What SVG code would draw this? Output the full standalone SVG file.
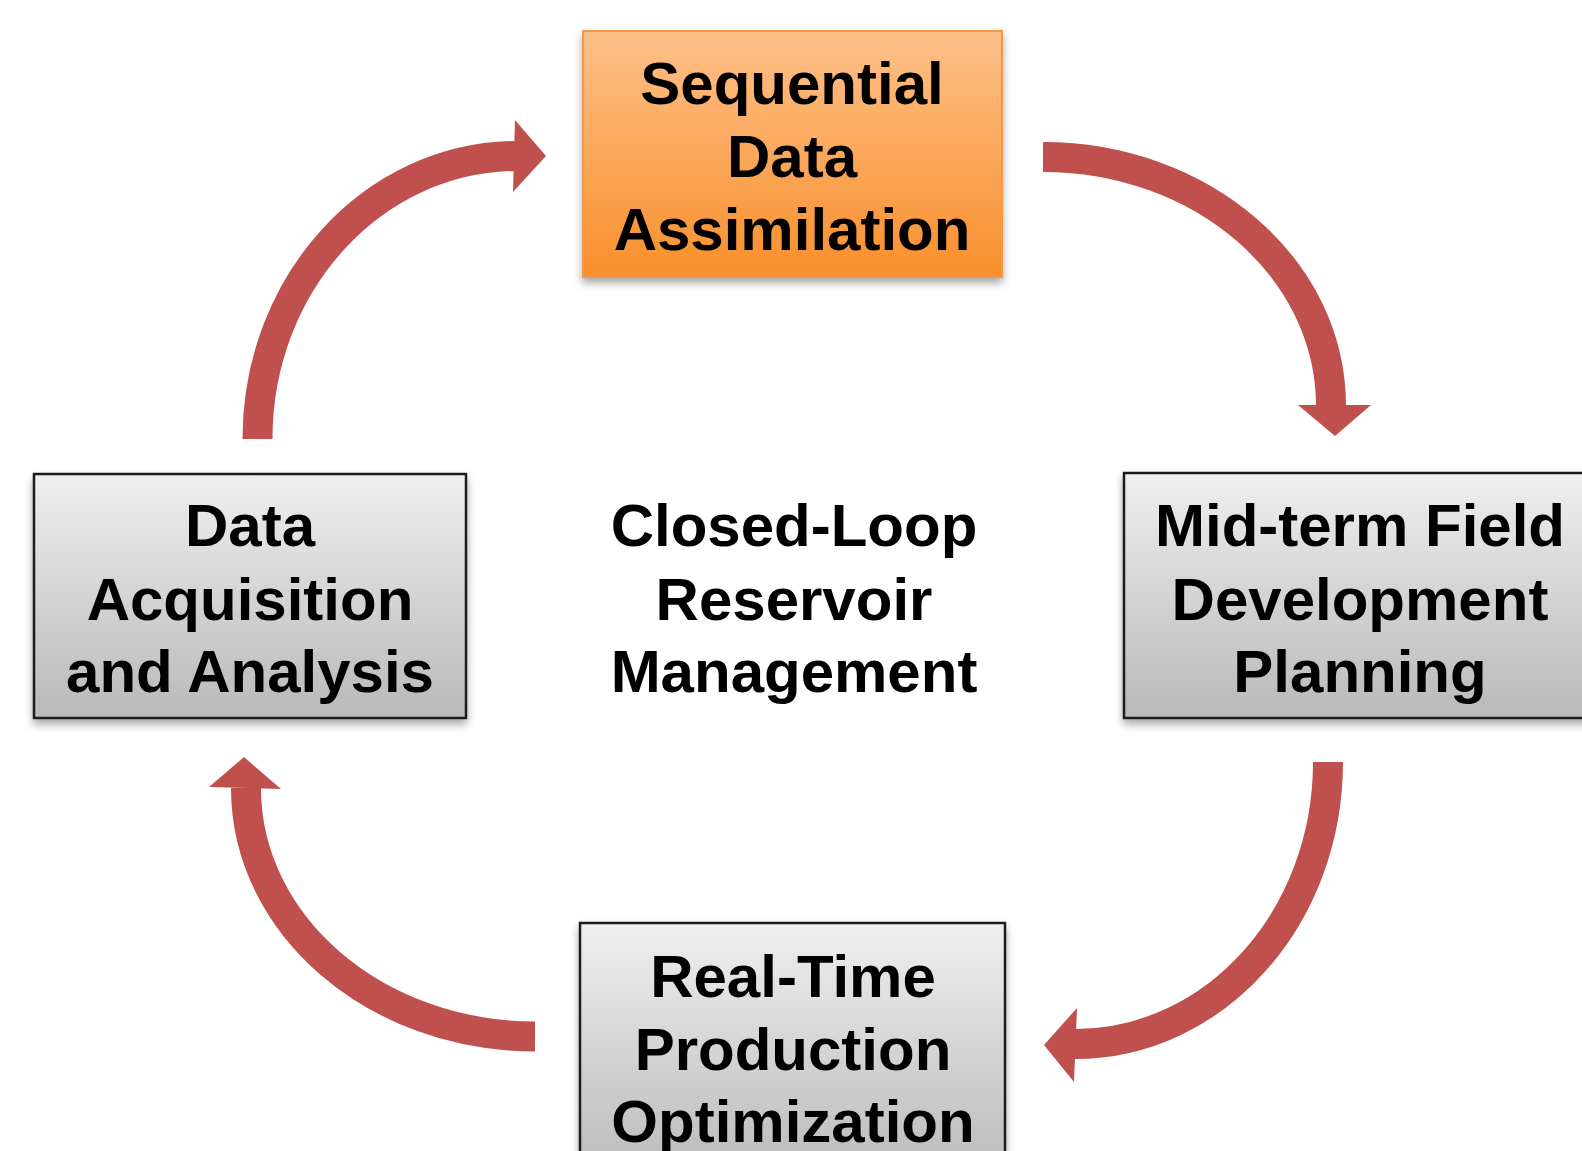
<svg xmlns="http://www.w3.org/2000/svg" width="1582" height="1151" viewBox="0 0 1582 1151">
<defs>
<linearGradient id="gGray" x1="0" y1="0" x2="0" y2="1">
<stop offset="0" stop-color="#efefef"/>
<stop offset="1" stop-color="#b9b9b9"/>
</linearGradient>
<linearGradient id="gOrange" x1="0" y1="0" x2="0" y2="1">
<stop offset="0" stop-color="#fdc089"/>
<stop offset="1" stop-color="#f98f2c"/>
</linearGradient>
<filter id="shadow" x="-10%" y="-10%" width="120%" height="130%">
<feDropShadow dx="0" dy="5" stdDeviation="4" flood-color="#000" flood-opacity="0.35"/>
</filter>
</defs>
<style>
.box{fill:url(#gGray);stroke:#1a1a1a;stroke-width:2.5;filter:url(#shadow)}
.obox{fill:url(#gOrange);stroke:#f79646;stroke-width:2;filter:url(#shadow)}
.t{font-family:"Liberation Sans",Arial,sans-serif;font-weight:bold;font-size:60px;fill:#000;text-anchor:middle}
.shaft{fill:none;stroke:#c0504d;stroke-width:30;stroke-linecap:butt}
.head{fill:#c0504d}
</style>
<rect width="1582" height="1151" fill="#fff"/>
<g id="connectors">
<path class="shaft" d="M257.5 439 C257.5 283 373 157 516 156"/>
<polygon class="head" points="515,120 546,156 513,192"/>
<path class="shaft" d="M1043 157 C1202 157 1331 268 1331 406"/>
<polygon class="head" points="1298,405 1371,405 1335,436"/>
<path class="shaft" d="M1328 762 C1328 918 1215 1044 1075 1044"/>
<polygon class="head" points="1077,1008 1044,1045 1074,1082"/>
<path class="shaft" d="M535 1036.5 C375 1036.5 246 925 246 788"/>
<polygon class="head" points="209,787 244,757 281,789"/>
</g>
<g id="node-sda">
<rect class="obox" x="583" y="31" width="419" height="246"/>
<text class="t" x="792" y="104">Sequential</text>
<text class="t" x="792" y="177">Data</text>
<text class="t" x="792" y="250">Assimilation</text>
</g>
<g id="node-mid">
<rect class="box" x="1124" y="473" width="472" height="245"/>
<text class="t" x="1360" y="546">Mid-term Field</text>
<text class="t" x="1360" y="620">Development</text>
<text class="t" x="1360" y="692">Planning</text>
</g>
<g id="node-daq">
<rect class="box" x="34" y="474" width="432" height="244"/>
<text class="t" x="250" y="546">Data</text>
<text class="t" x="250" y="620">Acquisition</text>
<text class="t" x="250" y="692">and Analysis</text>
</g>
<g id="node-rtpo">
<rect class="box" x="580" y="923" width="425" height="260"/>
<text class="t" x="793" y="997">Real-Time</text>
<text class="t" x="793" y="1070">Production</text>
<text class="t" x="793" y="1142">Optimization</text>
</g>
<g id="label-center">
<text class="t" x="794" y="546">Closed-Loop</text>
<text class="t" x="794" y="620">Reservoir</text>
<text class="t" x="794" y="692">Management</text>
</g>
</svg>
